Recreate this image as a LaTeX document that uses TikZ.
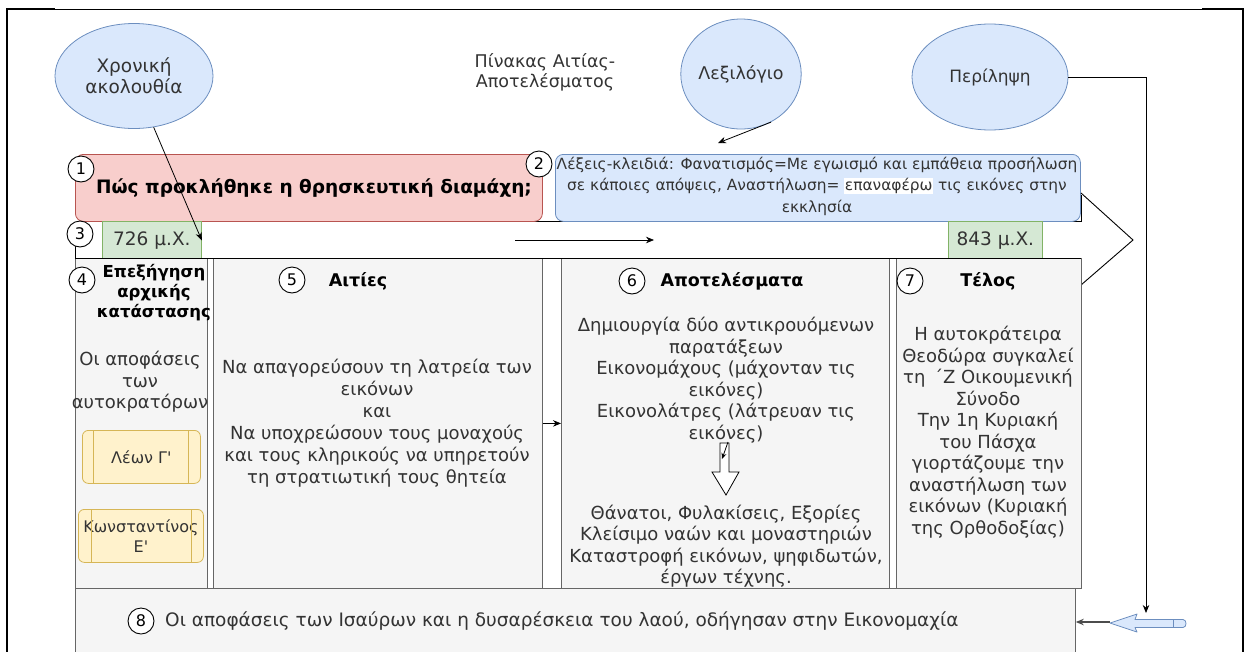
\documentclass[tikz,border=0pt]{standalone}
\usepackage{fontspec}
\setmainfont{DejaVu Sans}
\usetikzlibrary{arrows.meta,shapes.geometric}
\definecolor{redF}{HTML}{F8CECC}
\definecolor{redS}{HTML}{B85450}
\definecolor{blueF}{HTML}{DAE8FC}
\definecolor{blueS}{HTML}{6C8EBF}
\definecolor{grnF}{HTML}{D5E8D4}
\definecolor{grnS}{HTML}{82B366}
\definecolor{yelF}{HTML}{FFF2CC}
\definecolor{yelS}{HTML}{D6B656}
\definecolor{panF}{HTML}{F5F5F5}
\definecolor{panS}{HTML}{666666}
\definecolor{txt}{HTML}{333333}
\begin{document}
\begin{tikzpicture}[x=1pt,y=-1pt,
  ell/.style={ellipse, draw=blueS, fill=blueF, inner sep=0pt, line width=0.8pt,
    font=\fontsize{17.5}{21}\selectfont, text=txt, align=center},
  num/.style={circle, draw=black, fill=white, minimum size=26pt, inner sep=0pt,
    line width=0.9pt, font=\fontsize{16}{16}\selectfont},
  panel/.style={draw=panS, fill=panF, anchor=north west, inner sep=0pt, line width=0.8pt},
  ptext/.style={text=txt, align=center, inner sep=0pt, font=\fontsize{18}{21.5}\selectfont},
  hdr/.style={text=black, align=center, inner sep=0pt, font=\bfseries\fontsize{17.5}{20}\selectfont},
  gbox/.style={draw=grnS, fill=grnF, anchor=north west, inner sep=0pt, line width=0.8pt,
    text=txt, font=\fontsize{18.5}{18.5}\selectfont},
  ybox/.style={draw=yelS, fill=yelF, anchor=north west, rounded corners=6pt, inner sep=0pt,
    line width=0.8pt, text=txt, align=center, font=\fontsize{16}{20}\selectfont},
  arr/.style={-{Stealth[length=8pt,width=6.5pt]}, line width=0.8pt},
]
\useasboundingbox (0,0) rectangle (1249,651);
% page border
\draw[line width=0.8pt] (7,9) -- (1243,9);
\draw[line width=1.8pt] (7,655) -- (7,9) -- (55,9);
\draw[line width=1.8pt] (1202,9) -- (1243,9) -- (1243,655);

% top ellipses and title
\node[ell, minimum width=158pt, minimum height=105pt, font=\fontsize{18.5}{21}\selectfont] (chron) at (134,76) {Χρονική\\ακολουθία};
\node[ell, minimum width=112pt, minimum height=110pt] (lex) at (741,74) {Λεξιλόγιο};
\node[ell, minimum width=156pt, minimum height=106pt, font=\fontsize{17}{21}\selectfont] (peri) at (990,77) {Περίληψη};
\node[text=txt, align=center, inner sep=0pt, font=\fontsize{17.5}{20}\selectfont] (title) at (545,72) {Πίνακας Αιτίας-\\Αποτελέσματος};

% black frame pieces
\draw[line width=0.9pt] (530,221) -- (1081,221) -- (1081,195);
\draw[line width=0.9pt] (75,245) -- (75,258) -- (1081,258);

% row 1/2
\node[draw=redS, fill=redF, rounded corners=8pt, anchor=north west, minimum width=467pt,
  minimum height=67pt, inner sep=0pt, line width=0.8pt] (q1) at (75,154) {};
\node[hdr, font=\bfseries\fontsize{18.5}{20}\selectfont] (q1t) at (314,188) {Πώς προκλήθηκε η θρησκευτική διαμάχη;};
\node[draw=blueS, fill=blueF, rounded corners=8pt, anchor=north west, minimum width=525pt,
  minimum height=67pt, inner sep=0pt, line width=0.8pt] (q2) at (555,154) {};
\node[text=txt, align=center, inner sep=0pt, font=\fontsize{15.4}{21.5}\selectfont] (q2t) at (817,186)
  {Λέξεις-κλειδιά: Φανατισμός=Με εγωισμό και εμπάθεια προσήλωση\\
   σε κάποιες απόψεις, Αναστήλωση= {\setlength{\fboxsep}{0.6pt}\colorbox{white}{επαναφέρω}} τις εικόνες στην\\
   εκκλησία};
\node[num] (n1) at (81,169) {1};
\node[num] (n2) at (539,164) {2};

% timeline row
\node[gbox, minimum width=99pt, minimum height=38pt] (g726) at (102,221) {726 μ.Χ.};
\node[gbox, minimum width=94pt, minimum height=38pt] (g843) at (948,221) {843 μ.Χ.};
\node[num] (n3) at (80,234) {3};
\coordinate (tl1) at (515,240);
\coordinate (tl2) at (654,240);
\draw[arr] (tl1) -- (tl2);

% right bracket
\draw[line width=0.9pt] (1081,193) -- (1133,240) -- (1081,285);

% panels
\node[panel, minimum width=132pt, minimum height=330pt] (p4) at (75,258) {};
\node[panel, minimum width=329pt, minimum height=330pt] (p5) at (213,258) {};
\node[panel, minimum width=328pt, minimum height=330pt] (p6) at (561,258) {};
\node[panel, minimum width=185pt, minimum height=330pt] (p7) at (896,258) {};
\draw[line width=0.9pt] (75,258) -- (1081,258);

% panel 4
\node[num] (n4) at (82,280) {4};
\node[hdr, font=\bfseries\fontsize{16.5}{20}\selectfont] (h4) at (154,293) {Επεξήγηση\\αρχικής\\κατάστασης};
\node[ptext] (t4) at (140,382) {Οι αποφάσεις\\των\\αυτοκρατόρων};
\node[ybox, minimum width=118pt, minimum height=53pt] (leon) at (82,430) {Λέων Γ\textquotesingle};
\draw[yelS, line width=0.8pt] ([xshift=11pt]leon.north west) -- ([xshift=11pt]leon.south west);
\draw[yelS, line width=0.8pt] ([xshift=-12pt]leon.north east) -- ([xshift=-12pt]leon.south east);
\node[ybox, minimum width=125pt, minimum height=53pt] (kon) at (78,509) {Κωνσταντίνος\\Ε\textquotesingle};
\draw[yelS, line width=0.8pt] ([xshift=13pt]kon.north west) -- ([xshift=13pt]kon.south west);
\draw[yelS, line width=0.8pt] ([xshift=-12pt]kon.north east) -- ([xshift=-12pt]kon.south east);

% panel 5
\node[num] (n5) at (292,280) {5};
\node[hdr] (h5) at (358,281) {Αιτίες};
\node[ptext, font=\fontsize{18}{22}\selectfont] (t5) at (377,423) {Να απαγορεύσουν τη λατρεία των\\εικόνων\\και\\Να υποχρεώσουν τους μοναχούς\\και τους κληρικούς να υπηρετούν\\τη στρατιωτική τους θητεία};
\draw[arr] (p5.east) -- (p6.west);

% panel 6
\node[num] (n6) at (632,281) {6};
\node[hdr] (h6) at (732,281) {Αποτελέσματα};
\node[ptext] (t6a) at (726,380) {Δημιουργία δύο αντικρουόμενων\\παρατάξεων\\Εικονομάχους (μάχονταν τις\\εικόνες)\\Εικονολάτρες (λάτρευαν τις\\εικόνες)};
\node[ptext] (t6b) at (726,546) {Θάνατοι, Φυλακίσεις, Εξορίες\\Κλείσιμο ναών και μοναστηριών\\Καταστροφή εικόνων, ψηφιδωτών,\\έργων τέχνης.};
\draw[fill=white, line width=0.8pt] (720,443) -- (729,443) -- (729,472) -- (739,472) -- (726,495) -- (712,472) -- (720,472) -- cycle;
\coordinate (sa1) at (728,442);
\coordinate (sa2) at (722,459);
\draw[-{Stealth[length=6pt,width=5pt]}, line width=0.8pt] (sa1) -- (sa2);

% panel 7
\node[num] (n7) at (910,281) {7};
\node[hdr] (h7) at (988,281) {Τέλος};
\node[ptext] (t7) at (988,432) {Η αυτοκράτειρα\\Θεοδώρα συγκαλεί\\τη \,΄Ζ Οικουμενική\\Σύνοδο\\Την 1η Κυριακή\\του Πάσχα\\γιορτάζουμε την\\αναστήλωση των\\εικόνων (Κυριακή\\της Ορθοδοξίας)};

% row 8
\node[panel, minimum width=1000pt, minimum height=70pt] (p8) at (75,588) {};
\node[num] (n8) at (141,621) {8};
\node[ptext, anchor=west, font=\fontsize{18.5}{21.5}\selectfont] (t8) at (165,621) {Οι αποφάσεις των Ισαύρων και η δυσαρέσκεια του λαού, οδήγησαν στην Εικονομαχία};

% connectors
\draw[arr] (chron.-69) -- (g726.east);
\coordinate (lexend) at (718,143);
\draw[arr] (lex.-58) -- (lexend);
\coordinate (pdown) at (1146,613);
\draw[arr] (peri.east) -- (1146,77) -- (pdown);

% blue block arrow
\draw[draw=blueS, fill=blueF, line width=0.8pt, line join=round]
  (1110,623) -- (1137,614) -- (1135,619.5) -- (1183,619.5)
  .. controls (1187,619.5) and (1187,627.5) .. (1183,627.5)
  -- (1135,627.5) -- (1137,632) -- cycle;
\draw[draw=blueS, line width=0.6pt] (1173,619.5) -- (1173,627.5);
\coordinate (btip) at (1110,622);
\draw[-{Stealth[length=8pt,width=6.5pt]}, draw=black!70, line width=1.2pt] (btip) -- (p8.east |- btip);
\end{tikzpicture}
\end{document}
